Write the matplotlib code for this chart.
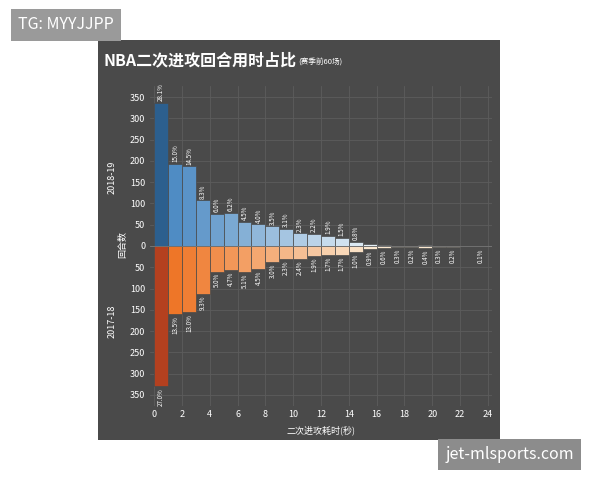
import matplotlib
matplotlib.use("Agg")
import matplotlib.pyplot as plt
import numpy as np

plt.rcParams['font.family'] = ['Noto Sans CJK SC', 'DejaVu Sans']

seconds = list(range(24))
s1819 = [337, 193, 187, 107, 76, 78, 57, 51, 46, 40, 30, 29, 24, 19, 10, 4, 2, 1, 1, 2, 1, 1, 0, 1]
p1819 = ["28.1%", "15.0%", "14.5%", "8.3%", "6.0%", "6.2%", "4.5%", "4.0%", "3.5%", "3.1%", "2.3%", "2.2%", "1.9%", "1.5%", "0.8%"]
s1718 = [330, 160, 155, 112, 60, 56, 61, 53, 38, 30, 31, 24, 22, 22, 13, 8, 4, 3, 2, 4, 3, 2, 0, 1]
p1718 = ["27.0%", "13.5%", "13.0%", "9.3%", "5.0%", "4.7%", "5.1%", "4.5%", "3.0%", "2.3%", "2.4%", "1.9%", "1.7%", "1.7%", "1.0%", "0.9%", "0.6%", "0.3%", "0.2%", "0.4%", "0.3%", "0.2%", "", "0.1%"]
xticks = list(range(0, 25, 2))
yticks = [-350, -300, -250, -200, -150, -100, -50, 0, 50, 100, 150, 200, 250, 300, 350]

fig = plt.figure(figsize=(6, 4.8), dpi=100)
fig.patch.set_facecolor('white')
bg = fig.add_axes([0.163, 0.083, 0.67, 0.834], zorder=-1)
bg.set_facecolor('#4a4a4a')
bg.set_xticks([]); bg.set_yticks([])
for s in bg.spines.values():
    s.set_visible(False)

ax = fig.add_axes([0.25, 0.155, 0.57, 0.665])
ax.set_facecolor('none')

def blue(i):
    if i == 0: return '#2c5f8e'
    t = min((i - 1) / 14, 1)
    c0 = np.array([0x4f, 0x8c, 0xc4]) / 255; c1 = np.array([0xe6, 0xf0, 0xf7]) / 255
    return tuple(c0 + (c1 - c0) * t)

def orange(i):
    if i == 0: return '#b4401f'
    t = min((i - 1) / 14, 1)
    c0 = np.array([0xee, 0x76, 0x28]) / 255; c1 = np.array([0xfb, 0xe8, 0xd0]) / 255
    return tuple(c0 + (c1 - c0) * t)

for i, (x, v) in enumerate(zip(seconds, s1819)):
    ax.bar(x, v, width=1, align='edge', color=blue(i), edgecolor='#4a4a4a', linewidth=0.5)
    if i < len(p1819):
        ax.text(x + 0.5, v + 4, p1819[i], rotation=90, ha='center', va='bottom', color='white', fontsize=4.5)
for i, (x, v) in enumerate(zip(seconds, s1718)):
    ax.bar(x, -v, width=1, align='edge', color=orange(i), edgecolor='#4a4a4a', linewidth=0.5)
    if p1718[i]:
        ax.text(x + 0.5, -v - 4, p1718[i], rotation=90, ha='center', va='top', color='white', fontsize=4.5)

ax.set_xlim(-0.3, 24.3)
ax.set_ylim(-375, 375)
ax.set_xticks(xticks)
ax.set_yticks(yticks)
ax.set_yticklabels([str(abs(t)) for t in yticks])
ax.tick_params(colors='white', labelsize=6.5, length=0)
for s in ax.spines.values():
    s.set_visible(False)
ax.grid(True, color='#5c5c5c', linewidth=0.6)
ax.set_axisbelow(True)
ax.axhline(0, color='#777777', linewidth=0.6)
ax.set_xlabel('二次进攻耗时(秒)', color='white', fontsize=6.5)

fig.text(0.187, 0.63, '2018-19', rotation=90, color='white', fontsize=6.5, ha='center', va='center')
fig.text(0.187, 0.33, '2017-18', rotation=90, color='white', fontsize=6.5, ha='center', va='center')
fig.text(0.205, 0.49, '回合数', rotation=90, color='white', fontsize=6.5, ha='center', va='center')
fig.text(0.173, 0.875, 'NBA二次进攻回合用时占比', color='white', fontsize=11.5, fontweight='bold', va='center')
fig.text(0.497, 0.872, '(赛季前60场)', color='white', fontsize=5.5, va='center')

fig.text(0.03, 0.948, 'TG: MYYJJPP', color='white', fontsize=11.5, va='center',
         bbox=dict(boxstyle='square,pad=0.45', facecolor='#9a9a9a', edgecolor='none'))
fig.text(0.742, 0.053, 'jet-mlsports.com', color='white', fontsize=11.5, va='center',
         bbox=dict(boxstyle='square,pad=0.45', facecolor='#8c8c8c', edgecolor='none'))

fig.savefig('out.png', dpi=100)
